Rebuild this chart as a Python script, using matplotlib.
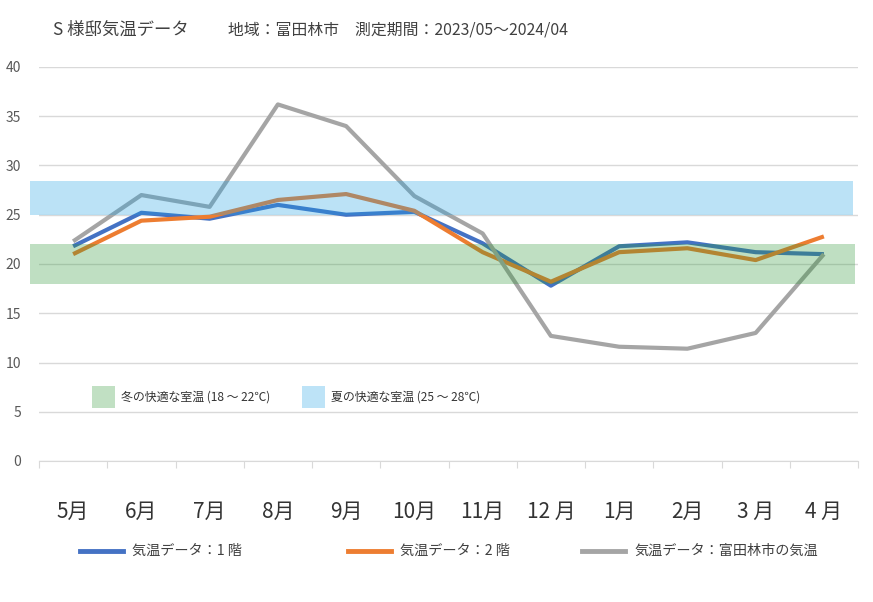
import matplotlib.pyplot as plt
from matplotlib.patches import Rectangle
from matplotlib.lines import Line2D

plt.rcParams['font.family'] = ['Noto Sans CJK JP', 'DejaVu Sans']

# データ
meses = ['5月', '6月', '7月', '8月', '9月', '10月', '11月', '12 月', '1月', '2月', '3 月', '4 月']
temp_1f = [21.8, 25.2, 24.6, 26.0, 25.0, 25.3, 22.1, 17.8, 21.8, 22.2, 21.2, 21.0]
temp_2f = [21.0, 24.4, 24.8, 26.5, 27.1, 25.4, 21.2, 18.2, 21.2, 21.6, 20.4, 22.8]
temp_city = [22.3, 27.0, 25.8, 36.2, 34.0, 26.9, 23.1, 12.7, 11.6, 11.4, 13.0, 21.0]

faixa_inverno = (18, 22)
faixa_verao = (25, 28.4)

W, H = 873, 602

def fx(px):
    return px / W

def fy(py):
    return 1 - py / H

fig = plt.figure(figsize=(8.73, 6.02), dpi=100)
ax = fig.add_axes([fx(39), fy(461), 819 / W, 394 / H])

x = list(range(len(meses)))
ax.plot(x, temp_1f, color='#4472c4', linewidth=3, solid_capstyle='butt', zorder=3)
ax.plot(x, temp_2f, color='#ed7d31', linewidth=3, solid_capstyle='butt', zorder=3)
ax.plot(x, temp_city, color='#a5a5a5', linewidth=3, solid_capstyle='butt', zorder=3)

# faixas de conforto (por cima das linhas, semi-transparentes)
ax.add_patch(Rectangle((-0.63, faixa_inverno[0]), 12.09, faixa_inverno[1] - faixa_inverno[0],
                       facecolor='#2d9837', alpha=0.3, linewidth=0, zorder=4, clip_on=False))
ax.add_patch(Rectangle((-0.63, faixa_verao[0]), 12.05, faixa_verao[1] - faixa_verao[0],
                       facecolor='#20a2e4', alpha=0.3, linewidth=0, zorder=4, clip_on=False))

ax.set_xlim(-0.5, 11.5)
ax.set_ylim(0, 40)
ax.set_yticks(range(0, 41, 5))
ax.yaxis.grid(True, color='#d9d9d9', linewidth=1, zorder=1)
ax.set_axisbelow(True)
for s in ['top', 'right', 'left']:
    ax.spines[s].set_visible(False)
ax.spines['bottom'].set_color('#d9d9d9')
ax.tick_params(axis='y', length=0, pad=13, labelsize=10, labelcolor='#595959')

ax.set_xticks([i - 0.5 for i in range(13)])
ax.set_xticklabels([])
ax.tick_params(axis='x', length=5, color='#d9d9d9', direction='out')
ax.set_xticks(x, minor=True)
ax.set_xticklabels(meses, minor=True, fontsize=15, color='#333333')
ax.tick_params(axis='x', which='minor', length=0, pad=29)

# legenda interna das faixas
fig.patches.append(Rectangle((fx(92), fy(408)), 23 / W, 22 / H,
                             transform=fig.transFigure, facecolor='#c1e0c3', edgecolor='none'))
fig.patches.append(Rectangle((fx(302), fy(408)), 23 / W, 22 / H,
                             transform=fig.transFigure, facecolor='#bde3f7', edgecolor='none'))
fig.text(fx(121), fy(397), '冬の快適な室温 (18 〜 22℃)', fontsize=8.6, color='#333333', va='center')
fig.text(fx(331), fy(397), '夏の快適な室温 (25 〜 28℃)', fontsize=8.6, color='#333333', va='center')

# título
fig.text(fx(53), fy(30), 'S 様邸気温データ', fontsize=12.5, color='#404040', va='center')
fig.text(fx(228), fy(30), '地域：富田林市　測定期間：2023/05〜2024/04', fontsize=11.4,
         color='#404040', va='center')

# legenda inferior (posicionada manualmente)
cores_leg = ['#4472c4', '#ed7d31', '#a5a5a5']
labels_leg = ['気温データ：1 階', '気温データ：2 階', '気温データ：富田林市の気温']
x_handles = [80, 348, 582]
for cor, lab, xh in zip(cores_leg, labels_leg, x_handles):
    fig.lines.append(Line2D([fx(xh), fx(xh + 43)], [fy(551), fy(551)], color=cor,
                            linewidth=3.5, transform=fig.transFigure))
    fig.text(fx(xh + 52), fy(551), lab, fontsize=10.2, color='#404040', va='center')

fig.savefig('out.png', dpi=100)
